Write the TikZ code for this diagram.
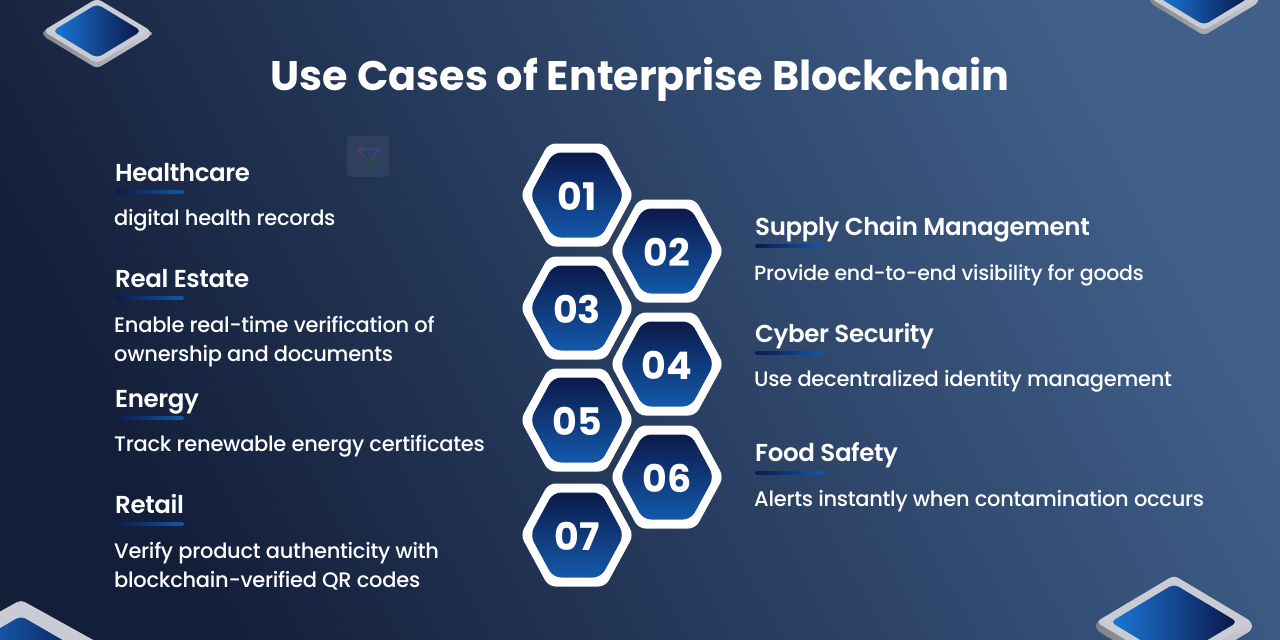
\documentclass[tikz,border=0pt]{standalone}
\usepackage{fontspec}
\setmainfont{Poppins}[UprightFont=* Medium,BoldFont=* Bold]
\newfontfamily\semi{Poppins}[UprightFont=* SemiBold,LetterSpace=-1.5]
\newfontfamily\bodyf{Poppins}[UprightFont=* Medium,LetterSpace=-1.3]
\definecolor{bgA}{HTML}{131E39}
\definecolor{bgB}{HTML}{40608A}
\definecolor{hexTop}{HTML}{0C1A4B}
\definecolor{hexBot}{HTML}{1359AB}
\definecolor{tileL}{HTML}{1A78D8}
\definecolor{tileR}{HTML}{0B1547}
\definecolor{tileFace}{HTML}{C9CBD5}
\tikzset{
  x=1pt,y=-1pt,
  title/.style={font=\fontsize{41.3}{41.3}\selectfont\bfseries,text=white,anchor=base},
  head/.style={font=\semi\fontsize{24.5}{25}\selectfont,text=white,anchor=base west,inner sep=0pt},
  body/.style={font=\bodyf\fontsize{21}{21}\selectfont,text=white,anchor=base west,inner sep=0pt},
  num/.style={font=\fontsize{38}{38}\selectfont\bfseries,text=white,inner sep=0pt},
}
% tile: cx cy halfw halfh innerhalfw innerhalfh thick
\newcommand{\tile}[7]{%
  \shade[left color=black!35!tileFace,right color=tileFace,rounded corners=4pt]
    (#1-#3,#2) -- (#1-#3,#2+#7) -- (#1,#2+#4+#7) -- (#1+#3,#2+#7) -- (#1+#3,#2) -- (#1,#2-#4) -- cycle;
  \fill[tileFace,rounded corners=5pt] (#1-#3,#2) -- (#1,#2-#4) -- (#1+#3,#2) -- (#1,#2+#4) -- cycle;
  \shade[left color=tileL,right color=tileR,rounded corners=5pt]
    (#1-#5,#2) -- (#1,#2-#6) -- (#1+#5,#2) -- (#1,#2+#6) -- cycle;
}
\newcommand{\hexa}[3]{%
  \fill[white,rounded corners=7pt] (#1-56.5,#2) -- (#1-28.5,#2-51.5) -- (#1+28.5,#2-51.5) -- (#1+56.5,#2) -- (#1+28.5,#2+51.5) -- (#1-28.5,#2+51.5) -- cycle;
  \shade[top color=hexTop,bottom color=hexBot,rounded corners=8pt] (#1-47,#2) -- (#1-24,#2-42.5) -- (#1+24,#2-42.5) -- (#1+47,#2) -- (#1+24,#2+42.5) -- (#1-24,#2+42.5) -- cycle;
  \node[num] (n#3) at (#1,#2+1) {#3};
}
\newcommand{\uline}[2]{%
  \shade[left color=hexTop,right color=hexBot,rounded corners=1.5pt] (#1,#2-1.8) rectangle (#1+69,#2+1.8);
}
\begin{document}
\begin{tikzpicture}
\useasboundingbox (0,0) rectangle (1280,640);
\begin{scope}
\clip (0,0) rectangle (1280,640);
\shade[top color=bgB,bottom color=bgA,shading angle=-62] (0,0) rectangle (1280,640);
\tile{97}{31}{54}{32.5}{44.5}{27}{5}
\tile{1204}{-2}{54}{32.5}{44.5}{27}{5}
\tile{21}{660}{108}{60}{76}{44}{8}
\tile{1174}{622}{78}{46.5}{63.5}{38}{8}
\end{scope}
% faint watermark
\fill[white,opacity=.06,rounded corners=3pt] (347,136) rectangle (389,177);
\begin{scope}[line width=3pt,opacity=.2]
\draw[blue!70!white] (366,149) -- (379,149) -- (371,160);
\draw[red!45!gray] (364,148) -- (359,150) -- (364,158);
\draw[green!50!black] (366,160) -- (369,165) -- (375,157);
\end{scope}
% title
\node[title] (t) at (640,90) {Use Cases of Enterprise Blockchain};
% hexagons
\hexa{577}{195}{01}
\hexa{667}{251}{02}
\hexa{577}{308}{03}
\hexa{667}{364}{04}
\hexa{577}{420}{05}
\hexa{667}{477}{06}
\hexa{577}{535}{07}
% left
\node[head] (h1) at (115,181) {Healthcare}; \uline{115}{192}
\node[body] (b1) at (114,225) {digital health records};
\node[head] (h3) at (115,287) {Real Estate}; \uline{115}{298}
\node[body] (b3) at (114,332) {Enable real-time verification of};
\node[body] (b3b) at (114,361) {ownership and documents};
\node[head] (h5) at (115,407) {Energy}; \uline{115}{418}
\node[body] (b5) at (114,451) {Track renewable energy certificates};
\node[head] (h7) at (115,513) {Retail}; \uline{115}{524}
\node[body] (b7) at (114,558) {Verify product authenticity with};
\node[body] (b7b) at (114,587) {blockchain-verified QR codes};
% right
\node[head] (h2) at (755,235) {Supply Chain Management}; \uline{755}{246}
\node[body,font=\bodyf\fontsize{20.5}{21}\selectfont] (b2) at (754,280) {Provide end-to-end visibility for goods};
\node[head] (h4) at (755,342) {Cyber Security}; \uline{755}{353}
\node[body] (b4) at (754,386) {Use decentralized identity management};
\node[head] (h6) at (755,461) {Food Safety}; \uline{755}{473}
\node[body] (b6) at (754,506) {Alerts instantly when contamination occurs};
\end{tikzpicture}
\end{document}
